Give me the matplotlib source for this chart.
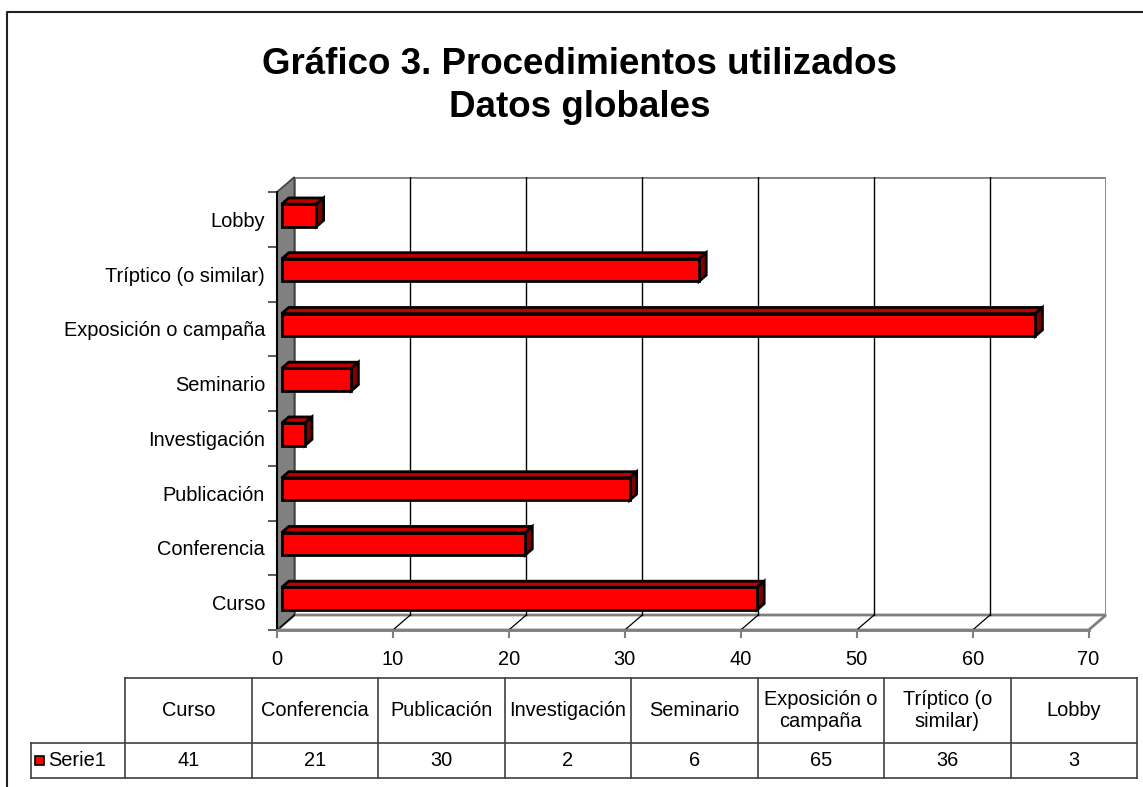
import textwrap
import matplotlib
matplotlib.use('Agg')
import matplotlib.pyplot as plt
from matplotlib.patches import Polygon, Rectangle
from matplotlib.lines import Line2D

plt.rcParams['font.family'] = ['Liberation Sans', 'DejaVu Sans']

# ---------------- data ----------------
categories = ['Curso', 'Conferencia', 'Publicación', 'Investigación', 'Seminario',
              'Exposición o campaña', 'Tríptico (o similar)', 'Lobby']
values = [41, 21, 30, 2, 6, 65, 36, 3]
series_name = 'Serie1'
title_lines = ['Gráfico 3. Procedimientos utilizados', 'Datos globales']
x_ticks = [0, 10, 20, 30, 40, 50, 60, 70]

# ---------------- layout ----------------
W, H = 1143, 787
fig = plt.figure(figsize=(W / 100, H / 100), dpi=100)
fig.patch.set_facecolor('white')


def fx(px):
    return px / W


def fy(py):
    return 1 - py / H


FS = 14.4
DX, DY = 1.5, 0.274          # depth offset of back wall (data units)
XMAX = x_ticks[-1]
n = len(categories)
BAR_H = 0.41
D0, D1 = 0.27, 0.68          # bar depth range (fraction of total depth)

ax = fig.add_axes([fx(277), fy(630), fx(1106) - fx(277), fy(177) - fy(630)])
ax.set_xlim(0, XMAX + DX)
ax.set_ylim(-0.5, n - 0.5 + DY)
ax.patch.set_visible(False)
for s in ax.spines.values():
    s.set_visible(False)

GRAY = '#808080'
# back wall
ax.add_patch(Rectangle((DX, -0.5 + DY), XMAX, n, facecolor='white',
                       edgecolor=GRAY, lw=2, zorder=1))
# floor
ax.add_patch(Polygon([(0, -0.5), (XMAX, -0.5), (XMAX + DX, -0.5 + DY), (DX, -0.5 + DY)],
                     closed=True, facecolor='white', edgecolor=GRAY, lw=2, zorder=1.5,
                     clip_on=False))
# side wall
ax.add_patch(Polygon([(0, -0.5), (DX, -0.5 + DY), (DX, n - 0.5 + DY), (0, n - 0.5)],
                     closed=True, facecolor=GRAY, edgecolor='#404040', lw=1.2, zorder=2,
                     clip_on=False))
# gridlines on back wall and floor diagonals
for v in x_ticks[1:-1]:
    ax.plot([v + DX, v + DX], [-0.5 + DY, n - 0.5 + DY], color='black', lw=1, zorder=2)
    ax.plot([v, v + DX], [-0.5, -0.5 + DY], color='black', lw=0.9, zorder=2)
ax.plot([0.3, DX], [-0.5 + 0.05, -0.5 + DY], color='black', lw=0.9, zorder=2.5)

# left axis line
ax.plot([0, 0], [-0.5, n - 0.5], color='black', lw=1.5, zorder=3, clip_on=False)
ax.plot([0, XMAX], [-0.5, -0.5], color=GRAY, lw=2, zorder=3, clip_on=False)

# bars
ox0, oy0 = D0 * DX, D0 * DY
ox1, oy1 = D1 * DX, D1 * DY
for i, v in enumerate(values):
    yb = i - BAR_H / 2
    yt = i + BAR_H / 2
    kw = dict(edgecolor='black', lw=2, joinstyle='miter', zorder=5)
    ax.add_patch(Polygon([(ox0, yt + oy0), (v + ox0, yt + oy0), (v + ox1, yt + oy1),
                          (ox1, yt + oy1)], closed=True, facecolor='#C00000', **kw))
    ax.add_patch(Polygon([(v + ox0, yb + oy0), (v + ox1, yb + oy1), (v + ox1, yt + oy1),
                          (v + ox0, yt + oy0)], closed=True, facecolor='#800000', **kw))
    ax.add_patch(Rectangle((ox0, yb + oy0), v, BAR_H, facecolor='#FF0000', **kw))

# ticks
ax.set_yticks([k - 0.5 for k in range(n + 1)])
ax.set_yticklabels([])
ax.tick_params(axis='y', which='major', length=6.5, width=1.2, color='#404040', direction='out')
ax.set_yticks(range(n), minor=True)
ax.set_yticklabels(categories, minor=True, fontsize=FS)
ax.tick_params(axis='y', which='minor', length=0, pad=8.6)
ax.set_xticks(x_ticks)
ax.set_xticklabels([str(t) for t in x_ticks], fontsize=FS)
ax.tick_params(axis='x', length=5.5, width=1.5, color=GRAY, pad=8.6)

# title
fig.text(fx(580), fy(86), '\n'.join(title_lines), ha='center', va='center',
         fontsize=26.5, fontweight='bold', linespacing=1.32)

# outer chart border (left + top visible)
fig.add_artist(Line2D([fx(7), fx(7), fx(1143)], [fy(790), fy(12), fy(12)],
                      transform=fig.transFigure, color='#202020', lw=1.5))

# data table
TC = '#404040'
tx0, hx0, colw = 31, 125, 126.5
ry0, ry1, ry2 = 678, 743, 778
hx1 = hx0 + colw * n


def fline(xs, ys):
    fig.add_artist(Line2D([fx(x) for x in xs], [fy(y) for y in ys],
                          transform=fig.transFigure, color=TC, lw=1.2))


fline([hx0, hx1], [ry0, ry0])
fline([tx0, hx1], [ry1, ry1])
fline([tx0, hx1], [ry2, ry2])
fline([tx0, tx0], [ry1, ry2])
for k in range(n + 1):
    fline([hx0 + k * colw] * 2, [ry0, ry2])
for k, (c, v) in enumerate(zip(categories, values)):
    cx = hx0 + (k + 0.5) * colw
    label = textwrap.fill(c, width=12, break_long_words=False)
    fig.text(fx(cx), fy((ry0 + ry1) / 2), label, ha='center', va='center',
             fontsize=FS, linespacing=1.2)
    fig.text(fx(cx), fy((ry1 + ry2) / 2), str(v), ha='center', va='center', fontsize=FS)
# legend key
fig.add_artist(Rectangle((fx(35), fy(765)), fx(9), 9 / H, transform=fig.transFigure,
                         facecolor='#FF0000', edgecolor='black', lw=1.2))
fig.text(fx(48), fy((ry1 + ry2) / 2), series_name, ha='left', va='center', fontsize=FS)

fig.savefig('out.png', dpi=100, facecolor='white')
